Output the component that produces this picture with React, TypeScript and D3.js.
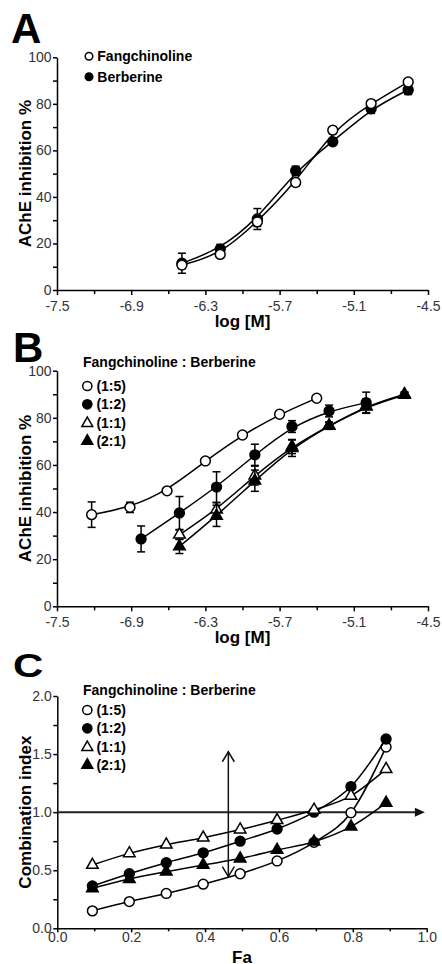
import React, { useRef, useEffect } from 'react';
import * as d3 from 'd3';

// ---- panel A: single compounds ----
const logA = [-6.49, -6.18, -5.88, -5.57, -5.27, -4.96, -4.66];
const fangchinoline = [10.7, 15.3, 29.3, 46.2, 68.7, 80.1, 89.4];
const fangchinolineErr = [1.5, 1, 2, 1.5, 1.5, 1, 1];
const berberine = [11.5, 17.6, 30.5, 51.2, 63.7, 77.9, 86.0];
const berberineErr = [4.3, 2, 4.5, 2, 1.5, 2, 2];

// ---- panel B: combinations (Fangchinoline : Berberine) ----
const log15 = [-7.22, -6.91, -6.61, -6.30, -6.00, -5.70, -5.40];
const inh15 = [38.9, 42, 49, 61.7, 72.7, 81.5, 88.3];
const inh15Err = [5.4, 2.2, 1, 1, 1, 1, 1];
const log12 = [-6.82, -6.51, -6.21, -5.90, -5.60, -5.30, -5.00];
const inh12 = [28.6, 39.6, 50.6, 64.3, 76.3, 82.9, 86.4];
const inh12Err = [5.5, 7, 6.5, 4.5, 2.5, 2.5, 4.5];
const log11 = [-6.51, -6.21, -5.90, -5.60, -5.30, -5.00, -4.69];
const inh11 = [30.4, 41, 55.5, 67.8, 76.7, 85.0, 90];
const inh11Err = [2, 3, 4, 3, 1.5, 3, 1];
const log21 = [-6.51, -6.21, -5.90, -5.60, -5.30, -5.00, -4.69];
const inh21 = [25.4, 38.4, 53.3, 67.1, 76.6, 84.7, 89.7];
const inh21Err = [3, 4.5, 4.5, 3.5, 1.5, 2.5, 1];

// ---- panel C: combination index vs Fa ----
const fa = [0.095, 0.195, 0.295, 0.395, 0.495, 0.595, 0.695, 0.795, 0.89];
const ci15 = [0.15, 0.23, 0.30, 0.38, 0.47, 0.58, 0.74, 0.995, 1.56];
const ci12 = [0.364, 0.47, 0.565, 0.65, 0.75, 0.855, 1.0, 1.22, 1.63];
const ci11 = [0.545, 0.645, 0.72, 0.78, 0.85, 0.93, 1.02, 1.14, 1.37];
const ci21 = [0.344, 0.424, 0.487, 0.545, 0.6, 0.674, 0.745, 0.875, 1.08];
const arrowFa = 0.463;
const arrowTop = 1.52;
const arrowBottom = 0.445;
const ciLineEnd = 0.995;

// ticks
const logTicks = [-7.5, -6.9, -6.3, -5.7, -5.1, -4.5];
const logMinor = [-7.2, -6.6, -6.0, -5.4, -4.8];
const pctTicks = [0, 20, 40, 60, 80, 100];
const pctMinor = [10, 30, 50, 70, 90];
const faTicks = [0, 0.2, 0.4, 0.6, 0.8, 1.0];
const faMinor = [0.1, 0.3, 0.5, 0.7, 0.9];
const ciTicks = [0, 0.5, 1.0, 1.5, 2.0];
const ciMinor = [0.25, 0.75, 1.25, 1.75];

const ratios = ['(1:5)', '(1:2)', '(1:1)', '(2:1)'];

const W = 442, H = 964;
const FONT = 'Liberation Sans, Arial, sans-serif';

function symbolPath(kind: string) {
  if (kind === 'tri') return d3.symbol(d3.symbolTriangle, 58)();
  return d3.symbol(d3.symbolCircle, 76)();
}

function drawAxes(svg: any, x: any, y: any, o: any) {
  const y0 = y.range()[0];
  const x0 = x.range()[0];
  const fmt = (d: number) => d.toFixed(o.dec);
  const fmtY = (d: number) => d.toFixed(o.decY);

  // minor ticks
  svg.append('g').attr('transform', `translate(0,${y0})`)
    .call(d3.axisBottom(x).tickValues(o.xMinor).tickSize(o.xMinorLen).tickFormat(() => ''))
    .call((g: any) => g.select('.domain').remove());
  svg.append('g').attr('transform', `translate(${x0},0)`)
    .call(d3.axisLeft(y).tickValues(o.yMinor).tickSize(4).tickFormat(() => ''))
    .call((g: any) => g.select('.domain').remove());

  svg.append('g').attr('transform', `translate(0,${y0})`)
    .call(d3.axisBottom(x).tickValues(o.xTicks).tickSize(o.xTickLen).tickSizeOuter(0).tickPadding(o.xPad).tickFormat(fmt as any));
  svg.append('g').attr('transform', `translate(${x0},0)`)
    .call(d3.axisLeft(y).tickValues(o.yTicks).tickSize(4).tickSizeOuter(0).tickPadding(1.5).tickFormat(fmtY as any));

  svg.selectAll('.tick line, .domain').attr('stroke', '#000').attr('stroke-width', 1.5);
  svg.selectAll('.tick text').attr('font-family', FONT).attr('font-size', 14).attr('fill', '#333');

  // axis titles
  svg.append('text')
    .attr('x', (x.range()[0] + x.range()[1]) / 2).attr('y', o.xTitleY)
    .attr('text-anchor', 'middle').attr('font-family', FONT).attr('font-weight', 'bold').attr('font-size', 17)
    .text(o.xTitle);
  const cy = (y.range()[0] + y.range()[1]) / 2;
  svg.append('text')
    .attr('transform', `translate(31,${cy}) rotate(-90)`)
    .attr('text-anchor', 'middle').attr('font-family', FONT).attr('font-weight', 'bold').attr('font-size', 17)
    .text(o.yTitle);
}

function drawSeries(svg: any, x: any, y: any, xs: number[], ys: number[], errs: number[] | null, kind: string, filled: boolean, curve: any) {
  const pts: [number, number][] = xs.map((v, i) => [x(v), y(ys[i])]);
  svg.append('path')
    .attr('d', d3.line().curve(curve)(pts))
    .attr('fill', 'none').attr('stroke', '#000').attr('stroke-width', 1.5);
  if (errs) {
    const eb = svg.append('g').attr('stroke', '#000').attr('stroke-width', 1.5);
    xs.forEach((v, i) => {
      const cx = x(v), t = y(ys[i] + errs[i]), b = y(ys[i] - errs[i]);
      eb.append('line').attr('x1', cx).attr('x2', cx).attr('y1', t).attr('y2', b);
      eb.append('line').attr('x1', cx - 4).attr('x2', cx + 4).attr('y1', t).attr('y2', t);
      eb.append('line').attr('x1', cx - 4).attr('x2', cx + 4).attr('y1', b).attr('y2', b);
    });
  }
  svg.append('g').selectAll('path').data(pts).join('path')
    .attr('transform', (d: any) => `translate(${d[0]},${d[1]})`)
    .attr('d', symbolPath(kind))
    .attr('fill', filled ? '#000' : '#fff').attr('stroke', '#000').attr('stroke-width', 1.5);
}

function drawLegend(svg: any, items: any[], x: number, ys: number[], r: number, title?: string, titleY?: number) {
  if (title) {
    svg.append('text').attr('x', 83).attr('y', titleY).attr('font-family', FONT)
      .attr('font-weight', 'bold').attr('font-size', 14).text(title);
  }
  items.forEach((it, i) => {
    const size = it.kind === 'tri' ? r * r * 2.4 : Math.PI * r * r;
    svg.append('path')
      .attr('transform', `translate(${x},${ys[i]})`)
      .attr('d', d3.symbol(it.kind === 'tri' ? d3.symbolTriangle : d3.symbolCircle, size)())
      .attr('fill', it.filled ? '#000' : '#fff').attr('stroke', '#000').attr('stroke-width', 1.5);
    svg.append('text').attr('x', x + r + 4.5).attr('y', ys[i] + 5)
      .attr('font-family', FONT).attr('font-weight', 'bold').attr('font-size', 14).text(it.label);
  });
}

function panelLetter(svg: any, letter: string, x: number, y: number, sy = 1) {
  svg.append('text')
    .attr('transform', `translate(${x},${y}) scale(1,${sy})`)
    .attr('font-family', FONT).attr('font-weight', 'bold').attr('font-size', 42)
    .text(letter);
}

function App() {
  const ref = useRef<SVGSVGElement>(null);

  useEffect(() => {
    const svg = d3.select(ref.current);
    svg.selectAll('*').remove();
    drawChart(svg);
  }, []);

  const drawChart = (svg: any) => {
    svg.append('rect').attr('width', W).attr('height', H).attr('fill', '#fff');

    // ---------- A ----------
    const xA = d3.scaleLinear().domain([-7.5, -4.5]).range([57, 428]);
    const yA = d3.scaleLinear().domain([0, 100]).range([290, 57.3]);
    const gA = svg.append('g');
    panelLetter(gA, 'A', 11, 43.3);
    drawAxes(gA, xA, yA, {
      xTicks: logTicks, xMinor: logMinor, yTicks: pctTicks, yMinor: pctMinor,
      xTickLen: 5, xMinorLen: 4, xPad: 6, dec: 1, decY: 0,
      xTitle: 'log [M]', xTitleY: 327, yTitle: 'AChE inhibition %'
    });
    drawSeries(gA, xA, yA, logA, berberine, berberineErr, 'circle', true, d3.curveBasis);
    drawSeries(gA, xA, yA, logA, fangchinoline, fangchinolineErr, 'circle', false, d3.curveBasis);
    drawLegend(gA, [
      { label: 'Fangchinoline', kind: 'circle', filled: false },
      { label: 'Berberine', kind: 'circle', filled: true }
    ], 89, [56.3, 76.7], 3.8);

    // ---------- B ----------
    const xB = d3.scaleLinear().domain([-7.5, -4.5]).range([57, 428]);
    const yB = d3.scaleLinear().domain([0, 100]).range([606.3, 370.7]);
    const gB = svg.append('g');
    panelLetter(gB, 'B', 13, 361.7);
    drawAxes(gB, xB, yB, {
      xTicks: logTicks, xMinor: logMinor, yTicks: pctTicks, yMinor: pctMinor,
      xTickLen: 5, xMinorLen: 4, xPad: 6, dec: 1, decY: 0,
      xTitle: 'log [M]', xTitleY: 643, yTitle: 'AChE inhibition %'
    });
    drawSeries(gB, xB, yB, log15, inh15, inh15Err, 'circle', false, d3.curveBasis);
    drawSeries(gB, xB, yB, log12, inh12, inh12Err, 'circle', true, d3.curveBasis);
    drawSeries(gB, xB, yB, log11, inh11, inh11Err, 'tri', false, d3.curveBasis);
    drawSeries(gB, xB, yB, log21, inh21, inh21Err, 'tri', true, d3.curveBasis);
    const legendItems = [
      { label: ratios[0], kind: 'circle', filled: false },
      { label: ratios[1], kind: 'circle', filled: true },
      { label: ratios[2], kind: 'tri', filled: false },
      { label: ratios[3], kind: 'tri', filled: true }
    ];
    drawLegend(gB, legendItems, 87.3, [386, 404.3, 423.3, 441], 4.6, 'Fangchinoline : Berberine', 367);

    // ---------- C ----------
    const xC = d3.scaleLinear().domain([0, 1]).range([57.3, 426.7]);
    const yC = d3.scaleLinear().domain([0, 2]).range([928.3, 696]);
    const gC = svg.append('g');
    panelLetter(gC, 'C', 13, 677, 0.8);
    drawAxes(gC, xC, yC, {
      xTicks: faTicks, xMinor: faMinor, yTicks: ciTicks, yMinor: ciMinor,
      xTickLen: 4, xMinorLen: 3, xPad: 0, dec: 1, decY: 1,
      xTitle: 'Fa', xTitleY: 963, yTitle: 'Combination index'
    });

    // reference line CI = 1 with arrow
    const yOne = yC(1);
    gC.append('line').attr('x1', xC(0)).attr('x2', xC(ciLineEnd) - 8)
      .attr('y1', yOne).attr('y2', yOne).attr('stroke', '#222').attr('stroke-width', 2);
    gC.append('path')
      .attr('d', d3.line()([[xC(ciLineEnd) - 10, yOne - 4.5], [xC(ciLineEnd), yOne], [xC(ciLineEnd) - 10, yOne + 4.5]]) + 'Z')
      .attr('fill', '#111');

    // vertical double arrow
    const ax = xC(arrowFa), at = yC(arrowTop), ab = yC(arrowBottom);
    const arr = gC.append('g').attr('stroke', '#111').attr('stroke-width', 1.5).attr('fill', 'none');
    arr.append('line').attr('x1', ax).attr('x2', ax).attr('y1', at).attr('y2', ab);
    arr.append('path').attr('d', d3.line()([[ax - 6, at + 10], [ax, at], [ax + 6, at + 10]]));
    arr.append('path').attr('d', d3.line()([[ax - 6, ab - 10], [ax, ab], [ax + 6, ab - 10]]));

    drawSeries(gC, xC, yC, fa, ci15, null, 'circle', false, d3.curveMonotoneX);
    drawSeries(gC, xC, yC, fa, ci12, null, 'circle', true, d3.curveMonotoneX);
    drawSeries(gC, xC, yC, fa, ci11, null, 'tri', false, d3.curveMonotoneX);
    drawSeries(gC, xC, yC, fa, ci21, null, 'tri', true, d3.curveMonotoneX);
    drawLegend(gC, legendItems, 87.3, [710, 728.3, 747.3, 765], 4.6, 'Fangchinoline : Berberine', 695);
  };

  return (
    <div style={{ position: 'absolute', left: 0, top: 0, width: W, height: H, background: '#fff' }}>
      <svg ref={ref} width={W} height={H} style={{ display: 'block' }}></svg>
    </div>
  );
}

export default App;
